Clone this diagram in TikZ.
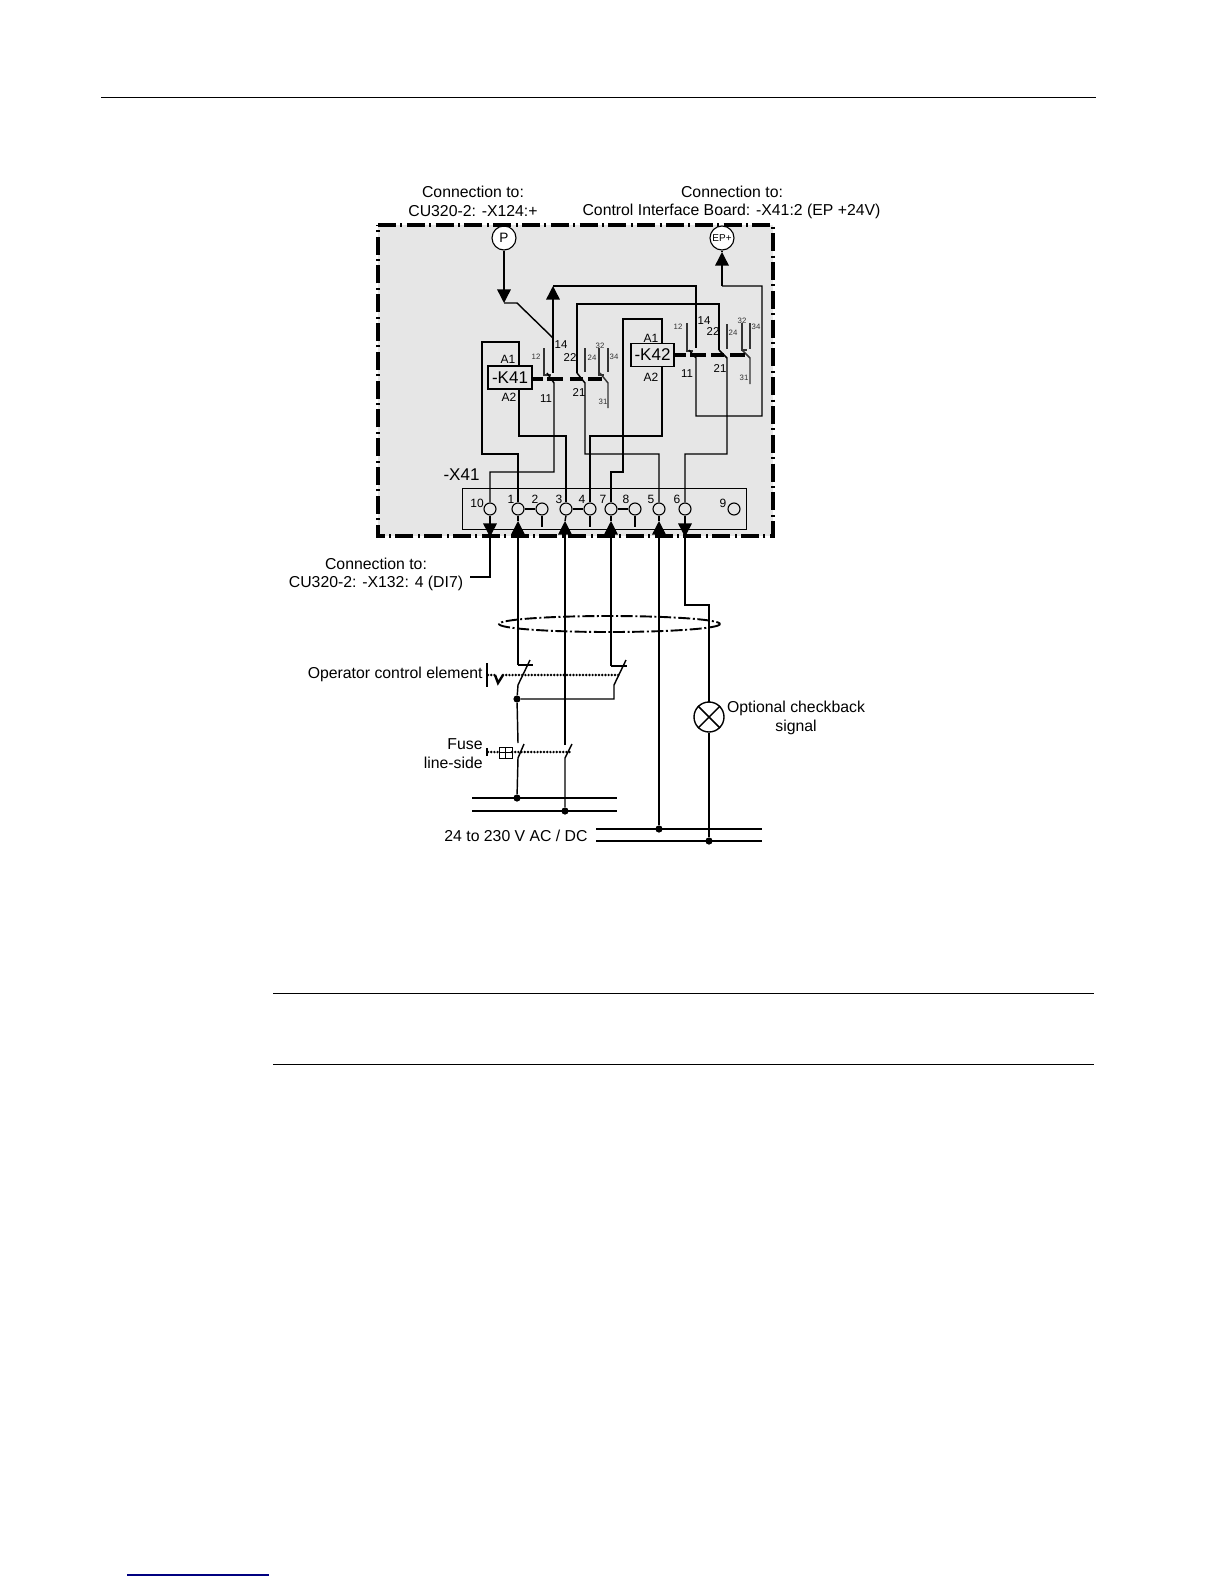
\documentclass[tikz,border=0pt]{standalone}
\usepackage{fontspec}
\setmainfont{Liberation Sans}
\usetikzlibrary{arrows.meta}
\definecolor{boxgrey}{HTML}{E6E6E6}
\definecolor{wiregrey}{HTML}{333333}
\definecolor{linkblue}{HTML}{000080}
\tikzset{
  wire/.style={draw=black,line width=0.72pt,line join=miter},
  contact/.style={draw=wiregrey,line width=0.72pt},
  rule/.style={draw=black,line width=0.5pt},
  tipped/.style={wire,-{Triangle[length=6.8pt,width=6.8pt]}},
  term/.style={circle,draw=black,line width=0.55pt,fill=boxgrey,minimum size=6pt,inner sep=0pt},
  jointdot/.style={circle,fill=black,minimum size=3.6pt,inner sep=0pt},
  coil/.style={draw=black,line width=0.7pt,fill=boxgrey,inner sep=0pt,minimum height=11.5pt,text=black},
  linkage/.style={draw=black,line width=1.6pt},
  bigdot/.style={draw=black,line width=1.35pt,line cap=round,dash pattern=on 0pt off 1.6pt},
  lab/.style={inner sep=0pt,font=\fontsize{7.9}{9}\selectfont,align=center},
  coillab/.style={inner sep=0pt,font=\fontsize{6}{7}\selectfont},
  biglab/.style={inner sep=0pt,font=\fontsize{8.5}{9}\selectfont},
  midnum/.style={inner sep=0pt,font=\fontsize{5.7}{6}\selectfont},
  tinynum/.style={inner sep=0pt,font=\fontsize{3.9}{4}\selectfont,text=wiregrey},
  termnum/.style={inner sep=0pt,font=\fontsize{6}{7}\selectfont},
}
\begin{document}
\begin{tikzpicture}[x=0.5pt,y=-0.5pt]
\useasboundingbox (0,0) rectangle (1224,1584);
% page rules
\coordinate (ruleAl) at (101,98); \coordinate (ruleAr) at (1096,98);
\coordinate (ruleBl) at (273,993); \coordinate (ruleBr) at (1094,993);
\coordinate (ruleCl) at (273,1064); \coordinate (ruleCr) at (1094,1064);
\coordinate (linkl) at (127,1575); \coordinate (linkr) at (269,1575);
\draw[rule] (ruleAl) -- (ruleAr);
\draw[rule] (ruleBl) -- (ruleBr);
\draw[rule] (ruleCl) -- (ruleCr);
\draw[draw=linkblue,line width=0.6pt] (linkl) -- (linkr);
% grey housing
\fill[boxgrey] (378,225) rectangle (773,536);
\draw[black,line width=0.5pt] (462,488) rectangle (746,529);
% terminals
\foreach \n/\x in {10/490,1/518,2/542,3/566,4/590,7/611,8/635,5/659,6/685,9/734}
  \node[term] (t\n) at (\x,509) {};
\draw[wire] (t1) -- (t2); \draw[wire] (t3) -- (t4); \draw[wire] (t7) -- (t8);
\foreach \n in {2,4,8} \draw[wire] (t\n.south) -- ++(0,11);
% end points
\node[term,minimum size=12pt,fill=white] (P) at (504,238) {\fontsize{6.8}{7}\selectfont P};
\node[term,minimum size=12pt,fill=white] (EP) at (722,238) {\fontsize{5}{5}\selectfont EP+};
% coils
\node[coil,minimum width=22pt] (K41) at (510,377.5) {\fontsize{8.5}{9}\selectfont -K41};
\node[coil,minimum width=21.5pt] (K42) at (652.5,355) {\fontsize{8.5}{9}\selectfont -K42};
% wiring K41
\draw[wire] (K41.north -| 519,0) -- (519,342) -- (482,342) -- (482,454) -- (518,454) -- (t1.north);
\draw[wire] (K41.south -| 519,0) -- (519,436) -- (566,436) -- (t3.north);
% wiring K42
\draw[wire] (K42.north -| 662,0) -- (662,319) -- (623,319) -- (623,472) -- (611,472) -- (t7.north);
\draw[wire] (K42.south -| 662,0) -- (662,436) -- (590,436) -- (t4.north);
% P to contact 14
\coordinate (ptip) at (504,303);
\coordinate (k41a) at (553,338);
\coordinate (k41up) at (553,286);
\draw[tipped] (P) -- (ptip);
\draw[wire] (ptip) -- (517,303) -- (k41a);
\draw[tipped] (k41a) -- (k41up);
\draw[wire] (k41up) -- (696,286) -- (696,348);
\draw[wire] (k41a) -- (553,373);
% K41 contacts
\draw[wire] (577,373) -- (577,304) -- (719,304) -- (719,350);
\draw[contact] (544,348) -- (544,375) -- (551,375);
\draw[wire] (547,373) -- (554,383) -- (554,472) -- (490,472) -- (t10.north);
\draw[wire] (577,373) -- (585,383) -- (585,454) -- (659,454) -- (t5.north);
\draw[contact] (585,348) -- (585,372);
\draw[contact] (599,348) -- (599,375) -- (604,375);
\draw[contact] (608,348) -- (608,372);
\draw[contact] (600,373) -- (608,383) -- (608,408);
\draw[linkage] (532,379) -- (543,379);
\draw[linkage] (547,379) -- (563,379);
\draw[linkage] (570,379) -- (583,379);
\draw[linkage] (588,379) -- (602,379);
% K42 contacts
\draw[contact] (687,323) -- (687,351) -- (693,351);
\draw[wire] (689,350) -- (696,358) -- (696,416) -- (762,416) -- (762,286) -- (722,286);
\coordinate (eptail) at (722,286);
\coordinate (eptip) at (722,252);
\draw[tipped] (eptail) -- (eptip);
\draw[wire] (eptip) -- (EP.south);
\draw[wire] (719,350) -- (727,358) -- (727,454) -- (685,454) -- (t6.north);
\draw[contact] (727,324) -- (727,349);
\draw[contact] (742,323) -- (742,350) -- (747,350);
\draw[contact] (750,323) -- (750,349);
\draw[contact] (742,350) -- (750,358) -- (750,384);
\draw[linkage] (674,355) -- (686,355);
\draw[linkage] (690,355) -- (706,355);
\draw[linkage] (711,355) -- (724,355);
\draw[linkage] (730,355) -- (745,355);
% housing border
\draw[draw=black,line width=1.6pt,dash pattern=on 9pt off 2.2pt on 1pt off 2.2pt] (378,225) -- (773,225) -- (773,536) -- (378,536) -- cycle;
% terminal arrows
\coordinate (a10) at (490,537); \coordinate (a6) at (685,537);
\foreach \n/\x in {1/518,3/565,7/611,5/659} \coordinate (a\n) at (\x,521);
\draw[tipped] (t10.south) -- (a10);
\draw[tipped] (t6.south) -- (a6);
\draw[wire] (a10) -- (490,577) -- (470,577);
\draw[wire] (a6) -- (685,605) -- (709,605) -- (709,702);
\foreach \n in {1,3,7,5} \draw[wire] (t\n.south) -- (a\n);
% lower part
\node[jointdot] (d1) at (517,699) {};
\node[jointdot] (d2) at (517,798) {};
\node[jointdot] (d3) at (565,811) {};
\node[jointdot] (d4) at (659,829) {};
\node[jointdot] (d5) at (709,841) {};
\coordinate (s1) at (518,665); \coordinate (s2) at (611,666);
\coordinate (s3) at (518,743); \coordinate (s4) at (565,745);
\draw[tipped] (s1) -- (a1);
\draw[wire] (s1) -- (533,665);
\draw[tipped] (s4) -- (a3);
\draw[tipped] (s2) -- (a7);
\draw[wire] (s2) -- (627,666);
\draw[tipped] (d4) -- (a5);
% operator switches
\draw[wire] (530,660) -- (518,685) -- (d1);
\draw[wire] (d1) -- (s3);
\draw[wire] (d1) -- (614,699) -- (614,685) -- (626,660);
\draw[bigdot] (503,675) -- (620,675);
\draw[bigdot] (488,675) -- (495,675);
\draw[wire,line width=1.2pt] (495,675) -- (498,683) -- (503,675);
\draw[wire] (487,663) -- (487,687);
% fuse switches
\draw[wire] (487,748) -- (487,756);
\draw[bigdot] (488,752) -- (499,752);
\draw[bigdot] (512,752) -- (570,752);
\draw[wire,line width=0.5pt] (499,747) rectangle (512,758);
\draw[wire,line width=0.5pt] (505.5,747) -- (505.5,758);
\draw[wire,line width=0.5pt] (499,752.5) -- (512,752.5);
\draw[wire] (524,744) -- (518,758) -- (d2);
\draw[wire] (572,744) -- (565,758) -- (d3);
% bus bars
\draw[wire] (472,798) -- (617,798);
\draw[wire] (472,811) -- (617,811);
\draw[wire] (596,829) -- (762,829);
\draw[wire] (596,841) -- (762,841);
% lamp
\node[circle,draw=black,line width=0.7pt,minimum size=15pt,inner sep=0pt] (lamp) at (709,717) {};
\draw[wire] (lamp.north west) -- (lamp.south east);
\draw[wire] (lamp.north east) -- (lamp.south west);
\draw[wire] (lamp.south) -- (d5);
% cable ring
\draw[draw=black,line width=0.95pt,dash pattern=on 6pt off 1.3pt on 1pt off 1.3pt] (609.5,624) ellipse [x radius=110.5,y radius=8];
% labels
\node[lab] (l1) at (473,192) {Connection to:};
\node[lab] (l2) at (473,211) {CU320-2: -X124:+};
\node[lab] (l3) at (732,192) {Connection to:};
\node[lab] (l4) at (731.5,211) {Control Interface Board: -X41:2 (EP +24V)};
\node[lab] (l5) at (376,564) {Connection to:};
\node[lab] (l6) at (376,583) {CU320-2: -X132: 4 (DI7)};
\node[lab,anchor=east] (l7) at (483,674) {Operator control element};
\node[lab,anchor=east] (l8) at (483,744) {Fuse};
\node[lab,anchor=east] (l9) at (483,763) {line-side};
\node[lab] (l10) at (796,708) {Optional checkback};
\node[lab] (l11) at (796,727) {signal};
\node[lab] (l12) at (516,836) {24 to 230 V AC / DC};
\node[biglab] (x41) at (461.5,475) {-X41};
% coil labels
\node[coillab] (a11) at (508,359) {A1};
\node[coillab] (a12) at (509,397) {A2};
\node[coillab] (a21) at (651,338) {A1};
\node[coillab] (a22) at (651,377) {A2};
% contact numbers
\node[tinynum] (n1) at (536,357) {12};
\node[midnum] (n2) at (561,345) {14};
\node[midnum] (n3) at (570,358) {22};
\node[tinynum] (n4) at (592,358) {24};
\node[tinynum] (n5) at (600,346) {32};
\node[tinynum] (n6) at (614,357) {34};
\node[midnum] (n7) at (546,399) {11};
\node[midnum] (n8) at (579,393) {21};
\node[tinynum] (n9) at (603,402) {31};
\node[tinynum] (m1) at (678,327) {12};
\node[midnum] (m2) at (704,321) {14};
\node[midnum] (m3) at (713,332) {22};
\node[tinynum] (m4) at (733,333) {24};
\node[tinynum] (m5) at (742,321) {32};
\node[tinynum] (m6) at (756,327) {34};
\node[midnum] (m7) at (687,374) {11};
\node[midnum] (m8) at (720,369) {21};
\node[tinynum] (m9) at (744,378) {31};
% terminal numbers
\foreach \n/\x/\y in {10/477/503.5,1/511/499.5,2/535/499.5,3/559/499.5,4/582/499.5,7/603/499.5,8/626/499.5,5/651/499.5,6/677/499.5,9/723/503.5}
  \node[termnum] (lt\n) at (\x,\y) {\n};
\end{tikzpicture}
\end{document}
